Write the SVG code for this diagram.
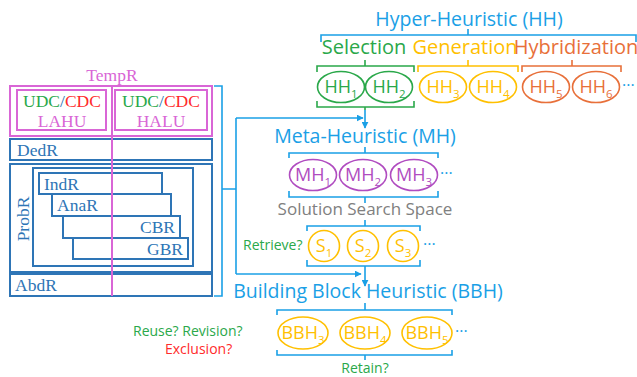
<svg xmlns="http://www.w3.org/2000/svg" width="637" height="377" viewBox="0 0 637 377">
<style>
.serif{font-family:"Liberation Serif","Times New Roman",serif;font-size:17.5px}
.sans{font-family:"Open Sans","Liberation Sans",sans-serif}
.title{font-size:19.5px;fill:#1aa0e6;text-anchor:middle}
.cat{font-size:20px;text-anchor:middle}
.lbl{font-size:18px;text-anchor:middle}
.sub{font-size:11.5px}
.small{font-size:14px}
.pinkbox{fill:none;stroke:#d966d6;stroke-width:2}
.bluebox{fill:none;stroke:#2e75b6;stroke-width:2}
.br{fill:none;stroke-width:1.6}
.lb{stroke:#1aa0e6}
.gr{stroke:#2aa84a}
.ye{stroke:#ffc000}
.or{stroke:#e8703a}
.conn{fill:none;stroke:#1aa0e6;stroke-width:1.6}
.dots{font-size:16px;fill:#1aa0e6}
</style>
<defs>
<marker id="ah" viewBox="0 0 10 10" refX="9" refY="5" markerWidth="7" markerHeight="7" orient="auto" markerUnits="userSpaceOnUse">
<path d="M0,0 L10,5 L0,10 z" fill="#1aa0e6"/>
</marker>
</defs>

<!-- Left reasoning panel -->
<g id="tempr">
<text class="serif" x="112" y="81" text-anchor="middle" fill="#d966d6">TempR</text>
<rect class="pinkbox" x="10" y="86" width="202" height="50"/>
</g>
<g id="lahu">
<rect class="pinkbox" x="17" y="90" width="89" height="40"/>
<text class="serif" x="62" y="107" text-anchor="middle"><tspan fill="#2aa84a">UDC</tspan><tspan fill="#1f6fb2">/</tspan><tspan fill="#ff2b2b">CDC</tspan></text>
<text class="serif" x="62" y="127" text-anchor="middle" fill="#d966d6">LAHU</text>
</g>
<g id="halu">
<rect class="pinkbox" x="115" y="90" width="92" height="40"/>
<text class="serif" x="161" y="107" text-anchor="middle"><tspan fill="#2aa84a">UDC</tspan><tspan fill="#1f6fb2">/</tspan><tspan fill="#ff2b2b">CDC</tspan></text>
<text class="serif" x="161" y="127" text-anchor="middle" fill="#d966d6">HALU</text>
</g>
<g id="dedr">
<rect class="bluebox" x="10" y="139" width="202" height="21"/>
<text class="serif" x="17" y="156" fill="#2e75b6">DedR</text>
</g>
<g id="probr">
<rect class="bluebox" x="10" y="164" width="202" height="108"/>
<rect class="bluebox" x="33" y="168" width="160" height="98"/>
<text class="serif" transform="translate(29,219) rotate(-90)" text-anchor="middle" fill="#2e75b6">ProbR</text>
</g>
<g id="gbr">
<rect class="bluebox" x="73" y="238" width="115" height="21" fill="#fff"/>
<text class="serif" x="183" y="255" text-anchor="end" fill="#2e75b6">GBR</text>
</g>
<g id="cbr">
<rect class="bluebox" x="63" y="216" width="117" height="22" fill="#fff"/>
<text class="serif" x="175" y="233" text-anchor="end" fill="#2e75b6">CBR</text>
</g>
<g id="anar">
<rect class="bluebox" x="52" y="194" width="119" height="22" fill="#fff"/>
<text class="serif" x="57" y="211" fill="#2e75b6">AnaR</text>
</g>
<g id="indr">
<rect class="bluebox" x="39" y="173" width="123" height="21" fill="#fff"/>
<text class="serif" x="44" y="190" fill="#2e75b6">IndR</text>
</g>
<g id="abdr">
<rect class="bluebox" x="10" y="274" width="202" height="22"/>
<text class="serif" x="15" y="291" fill="#2e75b6">AbdR</text>
</g>
<line x1="112" y1="86" x2="112" y2="296" stroke="#d966d6" stroke-width="2"/>

<!-- Hyper-heuristic -->
<g id="hh">
<text class="sans title" x="469" y="26">Hyper-Heuristic (HH)</text>
<path class="br lb" d="M321,42 L321,35 L636,35 L636,42 M468,35 L468,29"/>
</g>
<g id="selection">
<text class="sans cat" x="364" y="54" fill="#2aa84a">Selection</text>
<path class="br gr" d="M317,72 L317,66 L414,66 L414,72 M365,66 L365,60"/>
<path class="br gr" d="M317,101 L317,107 L414,107 L414,101 M365,107 L365,110"/>
</g>
<g id="generation">
<text class="sans cat" x="465" y="54" fill="#ffc000">Generation</text>
<path class="br ye" d="M418,72 L418,66 L518,66 L518,72 M468,66 L468,60"/>
</g>
<g id="hybridization">
<text class="sans cat" x="576" y="54" fill="#e8703a">Hybridization</text>
<path class="br or" d="M522,72 L522,66 L621,66 L621,72 M572,66 L572,60"/>
</g>
<g id="hh1"><ellipse cx="341" cy="87" rx="23.5" ry="15.5" fill="none" stroke="#2aa84a" stroke-width="1.6"/><text class="sans lbl" x="341" y="93" fill="#2aa84a">HH<tspan class="sub" dy="5">1</tspan></text></g>
<g id="hh2"><ellipse cx="389" cy="87" rx="23.5" ry="15.5" fill="none" stroke="#2aa84a" stroke-width="1.6"/><text class="sans lbl" x="389" y="93" fill="#2aa84a">HH<tspan class="sub" dy="5">2</tspan></text></g>
<g id="hh3"><ellipse cx="443" cy="87" rx="23.5" ry="15.5" fill="none" stroke="#ffc000" stroke-width="1.6"/><text class="sans lbl" x="443" y="93" fill="#ffc000">HH<tspan class="sub" dy="5">3</tspan></text></g>
<g id="hh4"><ellipse cx="493" cy="87" rx="23.5" ry="15.5" fill="none" stroke="#ffc000" stroke-width="1.6"/><text class="sans lbl" x="493" y="93" fill="#ffc000">HH<tspan class="sub" dy="5">4</tspan></text></g>
<g id="hh5"><ellipse cx="546" cy="87" rx="23.5" ry="15.5" fill="none" stroke="#e8703a" stroke-width="1.6"/><text class="sans lbl" x="546" y="93" fill="#e8703a">HH<tspan class="sub" dy="5">5</tspan></text></g>
<g id="hh6"><ellipse cx="596" cy="87" rx="23.5" ry="15.5" fill="none" stroke="#e8703a" stroke-width="1.6"/><text class="sans lbl" x="596" y="93" fill="#e8703a">HH<tspan class="sub" dy="5">6</tspan></text></g>
<text class="sans dots" x="622" y="91">···</text>

<!-- Meta-heuristic -->
<g id="mh">
<text class="sans title" x="365" y="143">Meta-Heuristic (MH)</text>
<path class="br lb" d="M289,158 L289,153 L438,153 L438,158 M365,153 L365,147"/>
<path class="br lb" d="M289,191 L289,197 L438,197 L438,191 M365,197 L365,203"/>
</g>
<g id="mh1"><ellipse cx="313" cy="175" rx="23.5" ry="15.5" fill="none" stroke="#b04cc0" stroke-width="1.6"/><text class="sans lbl" x="313" y="181" fill="#b04cc0">MH<tspan class="sub" dy="5">1</tspan></text></g>
<g id="mh2"><ellipse cx="363" cy="175" rx="23.5" ry="15.5" fill="none" stroke="#b04cc0" stroke-width="1.6"/><text class="sans lbl" x="363" y="181" fill="#b04cc0">MH<tspan class="sub" dy="5">2</tspan></text></g>
<g id="mh3"><ellipse cx="414" cy="175" rx="23.5" ry="15.5" fill="none" stroke="#b04cc0" stroke-width="1.6"/><text class="sans lbl" x="414" y="181" fill="#b04cc0">MH<tspan class="sub" dy="5">3</tspan></text></g>
<text class="sans dots" x="440" y="179">···</text>

<!-- Solution search space -->
<g id="sss">
<text class="sans" x="365" y="215" font-size="17" fill="#808080" text-anchor="middle">Solution Search Space</text>
<path class="br lb" d="M307,231 L307,226 L420,226 L420,231 M365,226 L365,220"/>
<path class="br lb" d="M307,260 L307,266 L420,266 L420,260"/>
<text class="sans small" x="243" y="250" fill="#2aa84a">Retrieve?</text>
</g>
<g id="s1"><circle cx="324" cy="246" r="15.5" fill="none" stroke="#ffc000" stroke-width="1.6"/><text class="sans lbl" x="324" y="252" font-size="19" fill="#ffc000">S<tspan class="sub" dy="5">1</tspan></text></g>
<g id="s2"><circle cx="363" cy="246" r="15.5" fill="none" stroke="#ffc000" stroke-width="1.6"/><text class="sans lbl" x="363" y="252" font-size="19" fill="#ffc000">S<tspan class="sub" dy="5">2</tspan></text></g>
<g id="s3"><circle cx="403" cy="246" r="15.5" fill="none" stroke="#ffc000" stroke-width="1.6"/><text class="sans lbl" x="403" y="252" font-size="19" fill="#ffc000">S<tspan class="sub" dy="5">3</tspan></text></g>
<text class="sans dots" x="423" y="250">···</text>

<!-- Building block heuristic -->
<g id="bbh">
<text class="sans title" x="368" y="298">Building Block Heuristic (BBH)</text>
<path class="br lb" d="M277,315 L277,310 L452,310 L452,315 M365,310 L365,303"/>
<path class="br lb" d="M277,350 L277,355 L452,355 L452,350 M365,355 L365,360"/>
<text class="sans small" x="365" y="373" fill="#2aa84a" text-anchor="middle">Retain?</text>
<text class="sans small" x="133" y="336" fill="#2aa84a">Reuse? Revision?</text>
<text class="sans small" x="165" y="354" fill="#ff2b2b">Exclusion?</text>
</g>
<g id="bbh3"><ellipse cx="303" cy="333" rx="25" ry="16" fill="none" stroke="#ffc000" stroke-width="1.6"/><text class="sans lbl" x="303" y="339" font-size="17" fill="#ffc000">BBH<tspan class="sub" dy="5">3</tspan></text></g>
<g id="bbh4"><ellipse cx="365" cy="333" rx="25" ry="16" fill="none" stroke="#ffc000" stroke-width="1.6"/><text class="sans lbl" x="365" y="339" font-size="17" fill="#ffc000">BBH<tspan class="sub" dy="5">4</tspan></text></g>
<g id="bbh5"><ellipse cx="427" cy="333" rx="25" ry="16" fill="none" stroke="#ffc000" stroke-width="1.6"/><text class="sans lbl" x="427" y="339" font-size="17" fill="#ffc000">BBH<tspan class="sub" dy="5">5</tspan></text></g>
<text class="sans dots" x="455" y="337">···</text>

<!-- Connectors -->
<g id="connectors">
<path class="conn" d="M214,86 L222,86 L222,296 L214,296 M222,189 L236,189"/>
<path class="conn" d="M236,118 L236,274"/>
<path class="conn" d="M236,118 L363,118" marker-end="url(#ah)"/>
<path class="conn" d="M365,110 L365,128" marker-end="url(#ah)"/>
<path class="conn" d="M236,274 L361,274" marker-end="url(#ah)"/>
<path class="conn" d="M365,266 L365,286" marker-end="url(#ah)"/>
</g>
</svg>
